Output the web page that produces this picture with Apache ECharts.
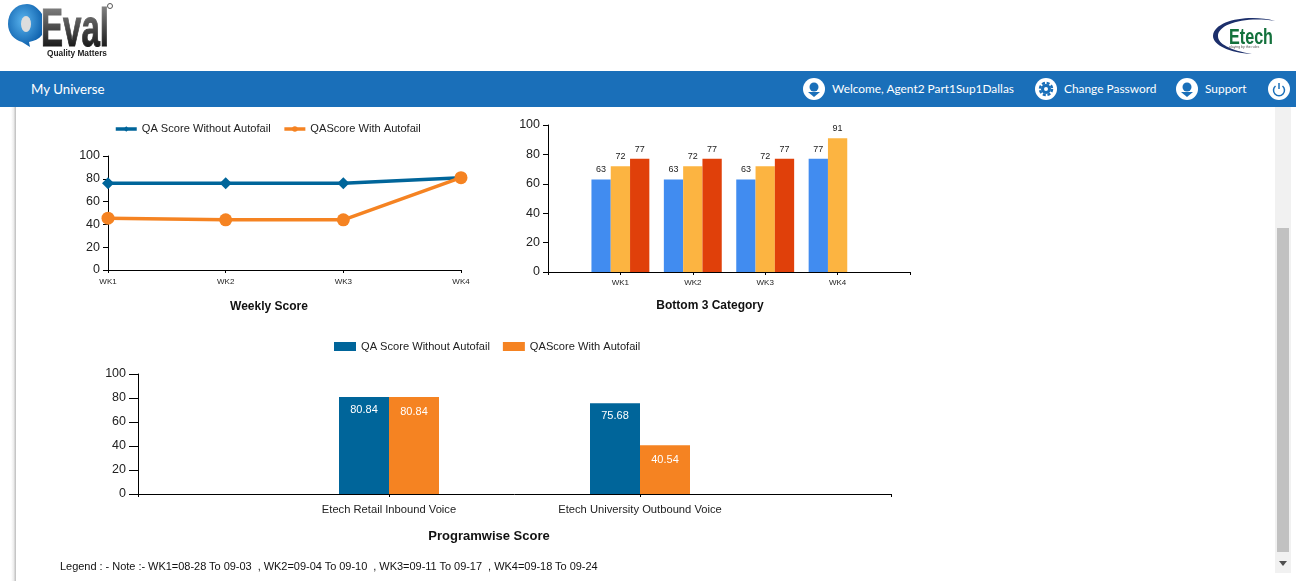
<!DOCTYPE html>
<html><head><meta charset="utf-8">
<script src="https://cdn.jsdelivr.net/npm/echarts@6/dist/echarts.min.js"></script>
<style>
html,body{margin:0;padding:0;width:1296px;height:581px;overflow:hidden;background:#fff;font-family:"Liberation Sans",Arial,sans-serif}
#main{position:absolute;left:0;top:0;width:1296px;height:581px}
.abs{position:absolute}
#nav{position:absolute;left:0;top:71px;width:1296px;height:36px;background:#1a6fb9}
.nt{position:absolute;top:0;line-height:36px;color:#fff;font-family:Lato,sans-serif;font-size:11.9px;white-space:nowrap}
.ic{position:absolute;top:7px;width:22px;height:22px;border-radius:50%;background:#fff}
.ic svg{display:block}
#edge{position:absolute;left:11px;top:107px;width:5px;height:474px;background:linear-gradient(to right,#fff,#eee 50%,#bbb)}
#track{position:absolute;left:1275px;top:107px;width:16px;height:466px;background:#f1f1f1}
#thumb{position:absolute;left:1277px;top:228px;width:12px;height:324px;background:#c1c1c1}
#arrow{position:absolute;left:1279px;top:561px;width:0;height:0;border-left:4px solid transparent;border-right:4px solid transparent;border-top:5px solid #505050}
#note{position:absolute;left:60px;top:559px;font-size:11px;letter-spacing:-0.03px;line-height:14px;color:#111;white-space:pre}
</style></head><body>
<div id="edge"></div>
<div id="main"></div>
<svg class="abs" style="left:0;top:0" width="130" height="71">
<defs><radialGradient id="g" cx="45%" cy="40%" r="60%"><stop offset="0" stop-color="#5ab4ee"/><stop offset="1" stop-color="#0f62ae"/></radialGradient>
<linearGradient id="k" x1="0" y1="0" x2="0" y2="1"><stop offset="0" stop-color="#999"/><stop offset="1" stop-color="#000"/></linearGradient></defs>
<path d="M27 4C15 4 8 13 8 24c0 9 6 16 14 18l8 5-1-5c5-1 10-3 13-7V14C38 8 33 4 27 4z" fill="url(#g)"/>
<ellipse cx="26" cy="24" rx="5" ry="8" fill="#ddd"/>
<text x="41" y="46" font-family="Liberation Sans" font-weight="bold" font-size="54" textLength="68" lengthAdjust="spacingAndGlyphs" fill="url(#k)" stroke="url(#k)" stroke-width="1">Eval</text>
<text x="47" y="56" font-family="Liberation Sans" font-weight="bold" font-size="9" textLength="60" lengthAdjust="spacingAndGlyphs" fill="#222">Quality Matters</text>
<circle cx="110" cy="6" r="2.5" fill="none" stroke="#555"/>
</svg>
<svg class="abs" style="left:1210px;top:12px" width="70" height="45">
<path d="M65 9C40 2 4 8 3 24 3 33 20 41 42 42 20 38 8 32 8 24 8 12 35 4 65 9z" fill="#1c2f6b"/>
<text x="19" y="32" font-family="Liberation Sans" font-weight="bold" font-size="22" textLength="44" lengthAdjust="spacingAndGlyphs" fill="#13713c">Etech</text>
<text x="19" y="36" font-family="Liberation Sans" font-size="3.5" fill="#555">playing by the rules</text>
</svg>
<div id="nav">
<div class="nt" style="left:31px;font-size:13.3px">My Universe</div>
<div class="ic" style="left:803px"><svg width="22" height="22"><circle cx="11" cy="9" r="4.5" fill="#1a6fb9"/><path d="M5 14h12l-6 5z" fill="#1a6fb9"/></svg></div>
<div class="nt" style="left:832px">Welcome, Agent2 Part1Sup1Dallas</div>
<div class="ic" style="left:1035px"><svg width="22" height="22"><circle cx="11" cy="11" r="3.5" fill="none" stroke="#1a6fb9" stroke-width="3"/><circle cx="11" cy="11" r="6" fill="none" stroke="#1a6fb9" stroke-width="2.5" stroke-dasharray="3 1.7"/></svg></div>
<div class="nt" style="left:1064px">Change Password</div>
<div class="ic" style="left:1176px"><svg width="22" height="22"><circle cx="11" cy="9" r="4.5" fill="#1a6fb9"/><path d="M5 14h12l-6 5z" fill="#1a6fb9"/></svg></div>
<div class="nt" style="left:1205px">Support</div>
<div class="ic" style="left:1268px"><svg width="22" height="22"><path d="M7.5 8a5.5 5.5 0 1 0 7 0M11 5v6" fill="none" stroke="#1a6fb9" stroke-width="1.5"/></svg></div>
</div>
<div id="track"></div><div id="thumb"></div><div id="arrow"></div>
<div id="note">Legend : - Note :- WK1=08-28 To 09-03  , WK2=09-04 To 09-10  , WK3=09-11 To 09-17  , WK4=09-18 To 09-24</div>
<script>
const seriesA = 'QA Score Without Autofail';
const seriesB = 'QAScore With Autofail';
const weekLabels = ['WK1','WK2','WK3','WK4'];
const weeklyWithout = [76,76,76,81];
const weeklyWith = [45.5,44,44,81];
const bottomLabels = ['','WK1','WK2','WK3','WK4',''];
const bottomFirst = [null,63,63,63,77,null];
const bottomSecond = [null,72,72,72,91,null];
const bottomThird = [null,77,77,77,null,null];
const programLabels = ['','Etech Retail Inbound Voice','Etech University Outbound Voice',''];
const programWithout = [null,80.84,75.68,null];
const programWith = [null,80.84,40.54,null];

const BLUE='#00659a', ORANGE='#f58322', INK='#222';
const font='"Liberation Sans",Arial,sans-serif';
function xAxis(i,data,size,margin){return {type:'category',gridIndex:i,data,boundaryGap:false,
  axisLine:{lineStyle:{color:'#000',width:1}},axisTick:{show:true,length:3,alignWithLabel:true,lineStyle:{color:'#000'},interval:0},
  axisLabel:{interval:0,fontSize:size,margin,color:INK,fontFamily:font,hideOverlap:false,showMinLabel:true,showMaxLabel:true},splitLine:{show:false}};}
function yAxis(i,tick,margin,size){return {type:'value',gridIndex:i,min:0,max:100,interval:20,
  axisLine:{show:true,lineStyle:{color:'#000',width:1}},axisTick:{show:true,length:tick,lineStyle:{color:'#000'}},
  axisLabel:{fontSize:size,margin,color:INK,fontFamily:font,padding:[2,0,0,0]},splitLine:{show:false}};}
function bar(name,data,color,x,y,width,lab){return Object.assign({type:'bar',name,data,xAxisIndex:x,yAxisIndex:y,barWidth:width,barGap:0,itemStyle:{color},emphasis:{disabled:true},animation:false},lab?{label:lab}:{});}
const topLabel={show:true,position:'top',distance:5,fontSize:9,color:INK,fontFamily:font};
const inLabel=off=>({show:true,position:'insideTop',distance:off,fontSize:11,color:'#fff',fontFamily:font});
const lt={fontSize:11.1,color:INK,fontFamily:font,padding:[0,0,0,0]};
const titleStyle=size=>({fontSize:size,fontWeight:'bold',color:'#111',fontFamily:font});
const chart=echarts.init(document.getElementById('main'),null,{renderer:'canvas'});
chart.setOption({animation:false,backgroundColor:'transparent',
 grid:[{left:108,top:156,width:353,height:114},{left:548,top:125,width:362,height:147},{left:138,top:374,width:753,height:120}],
 xAxis:[xAxis(0,weekLabels,8,8),xAxis(1,bottomLabels,8,7),xAxis(2,programLabels,11.2,10)],
 yAxis:[yAxis(0,5,8,12.5),yAxis(1,5,8,12.5),yAxis(2,9,12,12.5)],
 title:[
  {text:'Weekly Score',left:269,top:301,padding:0,textAlign:'center',textStyle:titleStyle(12)},
  {text:'Bottom 3 Category',left:710,top:300,padding:0,textAlign:'center',textStyle:titleStyle(12)},
  {text:'Programwise Score',left:489,top:529.5,padding:0,textAlign:'center',textStyle:titleStyle(13)}],
 legend:[
  {data:[seriesA,seriesB],left:114,top:123.5,padding:0,itemWidth:21,itemHeight:7,itemGap:12,textStyle:lt,selectedMode:false,lineStyle:{width:3.5}},
  {data:[seriesA,seriesB].map(name=>({name,icon:'rect'})),left:334,top:341,padding:0,itemWidth:22,itemHeight:9,itemGap:13,textStyle:lt,selectedMode:false}],
 series:[
  {type:'line',name:seriesA,data:weeklyWithout,xAxisIndex:0,yAxisIndex:0,symbol:'diamond',symbolSize:12,clip:false,lineStyle:{color:BLUE,width:3.5},itemStyle:{color:BLUE}},
  {type:'line',name:seriesB,data:weeklyWith,xAxisIndex:0,yAxisIndex:0,symbol:'circle',symbolSize:13,clip:false,lineStyle:{color:ORANGE,width:3.5},itemStyle:{color:ORANGE}},
  bar('Category 1',bottomFirst,'#418cf0',1,1,19.3,topLabel),
  bar('Category 2',bottomSecond,'#fcb441',1,1,19.3,topLabel),
  bar('Category 3',bottomThird,'#e0400a',1,1,19.3,topLabel),
  bar('Program '+seriesA,programWithout,BLUE,2,2,50,inLabel(7)),
  bar('Program '+seriesB,programWith,ORANGE,2,2,50,inLabel(9))
 ]});
</script>
</body></html>
